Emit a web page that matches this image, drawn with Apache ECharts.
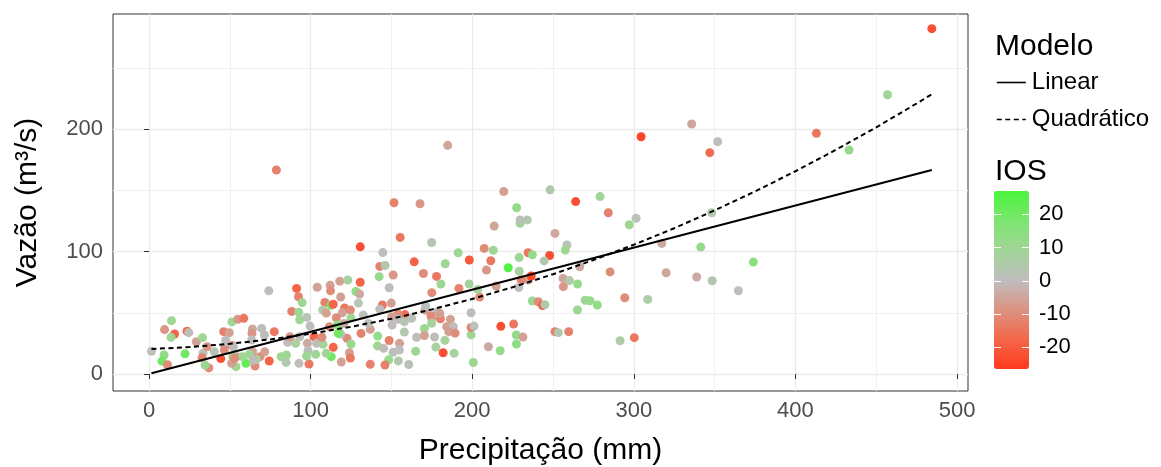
<!DOCTYPE html>
<html><head><meta charset="utf-8">
<script src="https://cdn.jsdelivr.net/npm/echarts@6/dist/echarts.min.js"></script>
<style>html,body{margin:0;padding:0;background:#fff}#c{width:1161px;height:467px}</style>
</head><body><div id="c"></div>
<script>
// Observations: precipitation (mm), flow (m3/s), IOS index
const precip = [
78.8,184.8,151.6,167.7,219.5,248.2,264.0,279.1,484.4,457.0,413.0,433.2,335.8,304.5,351.9,347.0,284.2,301.4,297.2,348.2,317.3,341.4,374.0,285.3,320.0,338.9,348.5,364.7,272.9,277.4,294.4,308.6,291.5,300.3,
227.5,229.6,229.6,234.1,213.6,251.2,258.6,257.6,207.4,213.0,234.6,237.2,247.9,229.0,211.5,244.5,222.3,229.1,208.8,234.7,236.5,230.3,228.8,214.8,204.6,266.5,256.2,260.1,256.4,265.2,237.2,240.9,243.6,245.0,269.9,265.1,217.7,225.6,227.3,231.4,227.4,210.0,217.3,251.2,253.3,259.7,200.7,
155.4,174.9,191.3,198.2,144.7,164.1,183.3,142.8,146.1,142.4,151.1,169.8,177.9,180.6,148.6,175.0,191.8,198.1,203.4,144.4,149.9,142.8,158.4,154.1,150.2,154.3,136.9,141.5,141.4,148.6,150.4,155.0,158.0,162.5,170.8,171.2,178.6,174.9,180.3,179.9,174.5,186.5,158.0,199.3,170.4,174.9,184.2,188.3,165.6,176.7,170.4,183.1,185.5,189.4,199.3,199.3,201.1,177.5,182.0,188.8,165.0,154.9,151.0,145.2,160.7,154.3,148.3,146.0,136.9,
130.7,74.1,91.3,92.5,94.8,88.3,92.6,93.2,97.6,99.6,104.1,112.1,112.3,118.0,123.0,130.7,128.0,130.3,118.6,129.6,108.8,112.6,114.0,107.5,109.7,115.9,121.0,124.6,119.6,124.9,120.7,116.5,111.6,132.6,135.7,102.1,131.2,122.5,125.0,118.6,114.0,117.1,124.0,124.6,119.0,112.8,109.7,103.1,103.7,107.7,107.0,98.0,98.4,99.0,92.8,97.5,85.0,81.7,84.8,90.7,93.2,85.8,87.2,77.5,74.4,68.7,65.6,66.4,71.6,64.1,62.1,
60.0,54.4,53.8,51.1,51.8,44.4,46.8,51.5,47.4,46.2,49.7,51.3,54.9,58.6,64.0,69.7,71.4,63.7,63.5,64.6,57.8,52.2,46.6,52.8,40.4,33.4,35.9,29.3,33.1,32.8,37.0,34.7,23.5,24.6,22.3,15.8,13.9,9.6,13.6,9.3,8.0,11.4,1.5
];
const vazao = [
166.8,187.0,140.0,139.2,149.2,150.6,141.0,145.1,282.4,228.4,196.8,183.2,204.4,194.0,190.0,181.0,131.9,127.3,122.1,131.9,106.8,103.8,91.5,83.5,82.8,79.3,76.3,68.1,59.9,56.4,62.4,61.0,27.2,29.7,
136.0,123.2,126.0,126.0,121.0,115.0,105.5,101.4,102.7,101.2,99.2,97.5,96.9,95.2,92.6,92.5,86.9,84.0,85.0,76.8,80.1,76.9,70.7,72.0,62.9,87.7,78.2,76.4,71.4,73.6,59.7,59.1,56.0,56.6,60.3,52.3,39.0,40.8,31.9,30.2,24.5,22.3,19.0,34.6,33.8,34.6,9.4,
111.7,107.5,99.2,93.2,99.3,91.7,90.2,88.0,88.8,79.6,81.0,82.2,79.8,73.6,70.5,66.5,70.0,73.6,69.2,56.4,58.0,53.0,48.6,49.0,46.9,44.7,36.5,31.0,23.0,27.4,40.0,25.1,34.3,45.5,52.3,55.6,50.9,45.5,45.2,49.6,47.7,44.7,42.8,50.1,37.3,41.5,38.7,38.7,30.1,30.3,31.5,27.5,34.6,33.4,32.0,38.0,39.2,22.0,17.4,16.9,18.6,19.6,17.7,21.0,7.8,10.7,11.7,7.4,7.9,
104.0,68.0,70.0,63.2,58.4,51.2,50.6,44.4,46.3,39.2,70.9,72.5,68.0,75.9,76.9,75.0,67.5,65.4,63.0,58.0,58.5,56.2,57.0,52.3,49.8,46.0,54.0,52.3,50.1,45.8,41.4,40.0,38.7,48.2,41.4,30.5,33.2,29.2,24.5,32.7,21.8,33.2,17.4,13.1,9.8,14.2,16.9,16.1,25.1,24.3,30.0,25.1,19.1,8.2,8.7,14.7,15.5,14.2,9.5,25.1,30.5,25.9,30.5,34.6,10.6,14.2,6.5,12.0,18.2,18.2,16.1,
8.7,14.2,6.0,8.7,14.2,12.6,22.3,23.4,27.4,34.6,33.8,42.6,44.7,45.5,36.8,37.3,31.9,33.2,27.8,11.4,14.2,22.3,19.6,12.8,18.2,16.9,22.3,26.4,29.7,13.2,5.0,7.3,35.0,33.8,16.5,32.7,43.6,36.3,30.0,15.5,10.5,7.6,18.6
];
const ios = [
-12,-5,-12,-8,-6,4,-22,10,-22,10,-14,12,-5,-24,1,-16,-12,2,10,4,-4,12,14,-10,-5,-4,3,1,12,12,-10,6,6,-14,
12,10,1,4,-5,-5,2,10,-10,10,-14,12,-22,10,-14,4,25,8,-8,-5,-24,-12,1,-6,-10,-4,-5,4,-8,12,10,-10,-20,4,10,10,-22,-14,12,-6,14,-4,12,-12,4,-12,10,
-14,3,10,-20,1,-18,10,-12,4,12,-8,-10,-14,10,0,-10,-12,8,8,-14,-6,0,-16,-10,-6,0,-6,12,10,-12,0,-6,4,1,-6,1,0,-6,-12,-6,-10,-6,3,0,10,8,-6,0,0,0,-6,8,-6,-10,10,-12,1,8,-22,8,10,0,1,0,1,4,12,-12,-12,
-22,0,-18,-12,10,-12,10,10,2,0,-6,-6,-10,-6,8,-18,14,-4,-6,2,-12,20,-18,4,-6,-10,-14,-10,-6,10,-4,14,-10,1,1,-18,-12,-10,12,0,-18,20,-6,-14,-6,20,10,10,0,8,-10,-4,0,-14,0,10,10,10,4,8,0,0,-8,-14,-18,-10,-10,8,-6,-6,10,
22,-6,10,-6,10,-22,0,-10,0,-12,-6,10,-8,-14,-4,0,0,-8,0,0,10,0,-10,-10,3,1,-8,-6,10,-12,-10,10,-16,0,20,-18,10,-8,10,12,20,-10,2
];
// Fitted model lines
const linX = [1.5, 484.4];
const linY = [0.6, 166.9];
const quadX = [1.5,25,50,75,100,125,150,175,200,225,250,275,300,325,350,375,400,425,450,475,484.4];
const quadY = [20.4,22.0,24.7,28.3,33.0,38.6,45.2,52.8,61.4,71.0,81.6,93.2,105.7,119.2,133.8,149.3,165.8,183.3,201.7,221.2,228.8];
// Axis ticks
const xTicks = [0,100,200,300,400,500];
const xMinor = [50,150,250,350,450];
const yTicks = [0,100,200];
const yMinor = [50,150,250];
const iosTicks = [-20,-10,0,10,20];
const modelNames = ['Linear','Quadrático'];

const n = Math.min(precip.length, vazao.length, ios.length);
const pts = [];
for (let i = 0; i < n; i++) pts.push([precip[i], vazao[i], ios[i]]);
const lin = linX.map((x, i) => [x, linY[i]]);
const quad = quadX.map((x, i) => [x, quadY[i]]);

const FONT = 'Liberation Sans';
const X0 = -22.3, X1 = 506.8, Y0 = -13.9, Y1 = 294.4, C0 = -26.5, C1 = 27;

const chart = echarts.init(document.getElementById('c'), null, {renderer: 'canvas'});
chart.setOption({
  animation: false,
  textStyle: {fontFamily: FONT},
  title: [
    {text: 'Modelo', left: 995, top: 32, padding: 0, textStyle: {fontSize: 30, fontWeight: 'normal', color: '#000', fontFamily: FONT}},
    {text: 'IOS', left: 995, top: 157, padding: 0, textStyle: {fontSize: 30, fontWeight: 'normal', color: '#000', fontFamily: FONT}}
  ],
  legend: {
    data: modelNames, orient: 'vertical', left: 996, top: 69, padding: 0,
    itemWidth: 29, itemHeight: 14, itemGap: 10,
    itemStyle: {opacity: 0},
    lineStyle: {width: 1.6},
    textStyle: {fontSize: 24, color: '#000', fontFamily: FONT, lineHeight: 27, padding: [0, 0, 0, 1]}
  },
  grid: [
    {left: 113, top: 14, width: 855, height: 377, show: true, borderColor: '#333', borderWidth: 1,
     backgroundColor: 'transparent', containLabel: false, outerBoundsMode: 'none'},
    {left: 994, top: 191, width: 35, height: 178, containLabel: false, outerBoundsMode: 'none'}
  ],
  xAxis: [
    {type: 'value', gridIndex: 0, min: X0, max: X1, axisLine: {show: false},
     axisTick: {show: true, customValues: xTicks, length: 5, lineStyle: {color: '#333'}},
     axisLabel: {customValues: xTicks, fontSize: 22, color: '#4D4D4D', margin: 9},
     splitLine: {show: true, lineStyle: {color: '#EBEBEB', width: 1.3}},
     name: 'Precipitação (mm)', nameLocation: 'middle', nameGap: 45,
     nameTextStyle: {fontSize: 30, color: '#000'}},
    {type: 'value', gridIndex: 0, min: X0, max: X1, position: 'bottom', axisLine: {show: false},
     axisTick: {show: false, customValues: xMinor}, axisLabel: {show: false, customValues: xMinor},
     splitLine: {show: true, lineStyle: {color: '#F0F0F0', width: 1}}},
    {type: 'value', gridIndex: 1, min: 0, max: 1, show: false}
  ],
  yAxis: [
    {type: 'value', gridIndex: 0, min: Y0, max: Y1, axisLine: {show: false},
     axisTick: {show: true, customValues: yTicks, length: 5, lineStyle: {color: '#333'}},
     axisLabel: {customValues: yTicks, fontSize: 22, color: '#4D4D4D', margin: 10},
     splitLine: {show: true, lineStyle: {color: '#EBEBEB', width: 1.3}},
     name: 'Vazão (m³/s)', nameLocation: 'middle', nameGap: 70,
     nameTextStyle: {fontSize: 30, color: '#000'}},
    {type: 'value', gridIndex: 0, min: Y0, max: Y1, position: 'left', axisLine: {show: false},
     axisTick: {show: false, customValues: yMinor}, axisLabel: {show: false, customValues: yMinor},
     splitLine: {show: true, lineStyle: {color: '#F0F0F0', width: 1}}},
    {type: 'value', gridIndex: 1, min: C0, max: C1, position: 'left', z: 10, axisLine: {show: false},
     axisTick: {show: true, inside: true, customValues: iosTicks, length: 7, lineStyle: {color: '#fff', width: 1}},
     axisLabel: {show: false, customValues: iosTicks}, splitLine: {show: false}},
    {type: 'value', gridIndex: 1, min: C0, max: C1, position: 'right', z: 10, axisLine: {show: false},
     axisTick: {show: true, inside: true, customValues: iosTicks, length: 7, lineStyle: {color: '#fff', width: 1}},
     axisLabel: {show: true, customValues: iosTicks, fontSize: 22, color: '#000', margin: 10},
     splitLine: {show: false}}
  ],
  visualMap: {
    type: 'continuous', min: C0, max: C1, dimension: 2, seriesIndex: 0,
    calculable: false, show: true, left: 994, top: 191, padding: 0,
    itemWidth: 35, itemHeight: 178, text: null, hoverLink: false,
    inRange: {color: ['#FF3A1C', '#F4664A', '#DC9382', '#BEBEBE', '#A2D598', '#7CE570', '#4AF53B']}
  },
  series: [
    {type: 'scatter', xAxisIndex: 0, yAxisIndex: 0, data: pts, symbol: 'circle', symbolSize: 9,
     itemStyle: {opacity: 1}, z: 2, silent: true},
    {type: 'line', name: modelNames[0], xAxisIndex: 0, yAxisIndex: 0, data: lin, symbol: 'none',
     lineStyle: {color: '#000', width: 2}, itemStyle: {color: '#000'}, z: 3},
    {type: 'line', name: modelNames[1], xAxisIndex: 0, yAxisIndex: 0, data: quad, symbol: 'none',
     lineStyle: {color: '#000', width: 2, type: [5, 3.5]}, itemStyle: {color: '#000'}, z: 3},
    {type: 'scatter', xAxisIndex: 2, yAxisIndex: 2, data: [], silent: true}
  ]
});
</script></body></html>
